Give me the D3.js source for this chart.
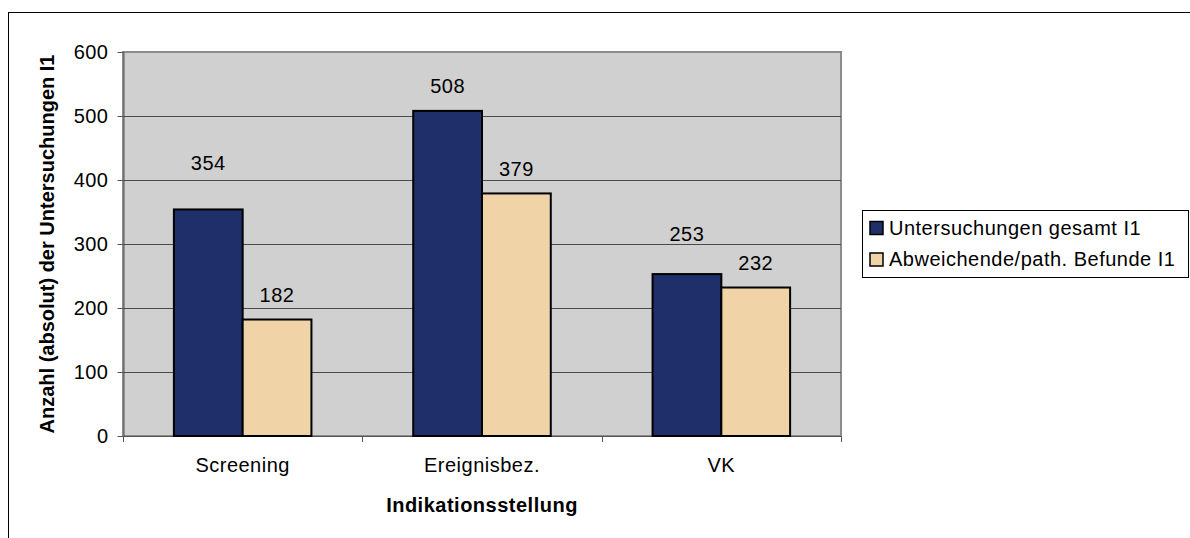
<!DOCTYPE html>
<html>
<head>
<meta charset="utf-8">
<script src="https://cdn.jsdelivr.net/npm/d3@7"></script>
<style>
  body { margin: 0; background: #fff; }
  svg { font-family: "Liberation Sans", Arial, sans-serif; letter-spacing: 0.5px; }
</style>
</head>
<body>
<div class="canva"></div>
<script>
var width = 1190;
var height = 538;

// data
const categories = ['Screening', 'Ereignisbez.', 'VK'];
const seriesNames = ['Untersuchungen gesamt I1', 'Abweichende/path. Befunde I1'];
const totalValues = [354, 508, 253];
const pathValues = [182, 379, 232];
const yTicks = [0, 100, 200, 300, 400, 500, 600];

const colors = ['#1f2f6a', '#f0d3a6'];
// some labels were dragged up by hand in the original
const labelLift = { 'Screening|0': 22, 'VK|0': 16 };

const plot = { left: 123, top: 52, right: 841, bottom: 436 };
const fs = 20;

const svg = d3.select('.canva').append('svg')
  .attr('width', width)
  .attr('height', height);

// outer chart frame (runs off the right/bottom of the picture)
svg.append('rect')
  .attr('x', 8.5).attr('y', 12.5)
  .attr('width', 1300).attr('height', 700)
  .attr('fill', '#fff').attr('stroke', '#000').attr('stroke-width', 1);

const x0 = d3.scaleBand().domain(categories).range([plot.left, plot.right]).paddingInner(0).paddingOuter(0);
const x1 = d3.scaleBand().domain([0, 1]).range([0, x0.bandwidth()]).paddingInner(0).paddingOuter(0.74);
const y = d3.scaleLinear().domain([0, 600]).range([plot.bottom, plot.top]);

// plot area
svg.append('rect')
  .attr('x', plot.left).attr('y', plot.top)
  .attr('width', plot.right - plot.left).attr('height', plot.bottom - plot.top)
  .attr('fill', '#d0d0d0').attr('stroke', '#8c8c8c').attr('stroke-width', 2);

// gridlines
svg.append('g').selectAll('line')
  .data(yTicks.filter(d => d > 0 && d < 600))
  .enter().append('line')
  .attr('x1', plot.left).attr('x2', plot.right)
  .attr('y1', d => Math.round(y(d)) + 0.5).attr('y2', d => Math.round(y(d)) + 0.5)
  .attr('stroke', '#4a4a4a').attr('stroke-width', 1);

// y axis
const yAxis = svg.append('g')
  .attr('transform', 'translate(' + (plot.left + 0.5) + ',0)')
  .call(d3.axisLeft(y).tickValues(yTicks).tickSize(6).tickPadding(9).tickSizeOuter(0));
yAxis.select('.domain').attr('stroke', '#555');
yAxis.selectAll('.tick line').attr('stroke', '#555');
yAxis.selectAll('text').attr('font-size', fs).attr('fill', '#000')
  .attr('font-family', '"Liberation Sans", Arial, sans-serif');

// x axis
const boundaries = [plot.left, plot.left + x0.bandwidth(), plot.left + 2 * x0.bandwidth(), plot.right];
svg.append('line')
  .attr('x1', plot.left).attr('x2', plot.right)
  .attr('y1', plot.bottom + 0.5).attr('y2', plot.bottom + 0.5)
  .attr('stroke', '#555');
svg.append('g').selectAll('line')
  .data(boundaries)
  .enter().append('line')
  .attr('x1', d => Math.round(d) + 0.5).attr('x2', d => Math.round(d) + 0.5)
  .attr('y1', plot.bottom).attr('y2', plot.bottom + 6)
  .attr('stroke', '#555');
svg.append('g').selectAll('text')
  .data(categories)
  .enter().append('text')
  .attr('x', d => x0(d) + x0.bandwidth() / 2)
  .attr('y', 472)
  .attr('text-anchor', 'middle')
  .attr('font-size', fs)
  .text(d => d);

// bars
const rows = categories.map((c, i) => ({ cat: c, vals: [totalValues[i], pathValues[i]] }));
const groups = svg.append('g').selectAll('g')
  .data(rows)
  .enter().append('g')
  .attr('transform', d => 'translate(' + x0(d.cat) + ',0)');

groups.selectAll('rect')
  .data(d => d.vals.map((v, k) => ({ cat: d.cat, k: k, v: v })))
  .enter().append('rect')
  .attr('x', d => x1(d.k))
  .attr('y', d => y(d.v))
  .attr('width', x1.bandwidth())
  .attr('height', d => y(0) - y(d.v))
  .attr('fill', d => colors[d.k])
  .attr('stroke', '#000')
  .attr('stroke-width', 2);

groups.selectAll('text')
  .data(d => d.vals.map((v, k) => ({ cat: d.cat, k: k, v: v })))
  .enter().append('text')
  .attr('x', d => x1(d.k) + x1.bandwidth() / 2)
  .attr('y', d => y(d.v) - 17.5 - (labelLift[d.cat + '|' + d.k] || 0))
  .attr('text-anchor', 'middle')
  .attr('font-size', fs)
  .text(d => d.v);

// axis titles
svg.append('text')
  .attr('transform', 'translate(54,' + (plot.top + plot.bottom) / 2 + ') rotate(-90)')
  .attr('text-anchor', 'middle')
  .attr('font-size', fs)
  .attr('font-weight', 'bold')
  .style('letter-spacing', '0px')
  .text('Anzahl (absolut) der Untersuchungen I1');

svg.append('text')
  .attr('x', (plot.left + plot.right) / 2)
  .attr('y', 512)
  .attr('text-anchor', 'middle')
  .attr('font-size', fs)
  .attr('font-weight', 'bold')
  .text('Indikationsstellung');

// legend
const legend = svg.append('g').attr('transform', 'translate(862,210)');
legend.append('rect')
  .attr('x', 0.5).attr('y', 0.5)
  .attr('width', 326).attr('height', 67)
  .attr('fill', '#fff').attr('stroke', '#000');
const items = legend.selectAll('g.item')
  .data(seriesNames)
  .enter().append('g')
  .attr('class', 'item')
  .attr('transform', (d, i) => 'translate(0,' + i * 31.5 + ')');
items.append('rect')
  .attr('x', 8).attr('y', 11.5)
  .attr('width', 13).attr('height', 13)
  .attr('fill', (d, i) => colors[i])
  .attr('stroke', '#000').attr('stroke-width', 1.5);
items.append('text')
  .attr('x', 27).attr('y', 24.5)
  .attr('font-size', fs)
  .text(d => d);
</script>
</body>
</html>
